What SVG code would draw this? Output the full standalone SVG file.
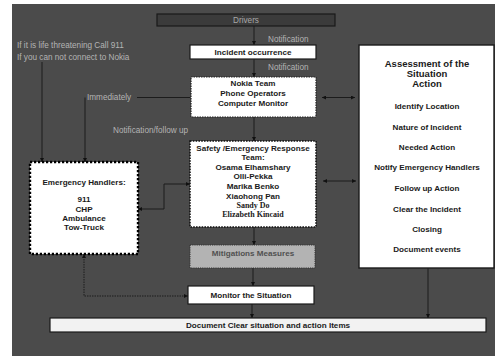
<svg xmlns="http://www.w3.org/2000/svg" width="495" height="356" viewBox="0 0 495 356">
<style>
.bx{font-family:"Liberation Sans",Arial,sans-serif;font-weight:bold;font-size:8.1px;fill:#1a1a1a;text-anchor:middle}
.hd{font-size:9.5px}
.lb{font-family:"Liberation Sans",Arial,sans-serif;font-size:8.2px;fill:#b4b4b4}
.sf{font-family:"Liberation Serif","Times New Roman",serif;font-weight:bold;font-size:8px;fill:#1a1a1a;text-anchor:middle}
.cn{fill:none;stroke:#1c1c1c;stroke-width:1}
</style>
<defs>
<marker id="ah" markerWidth="4" markerHeight="4" refX="4" refY="2" orient="auto-start-reverse" markerUnits="userSpaceOnUse">
<path d="M0,0 L4,2 L0,4 Z" fill="#111"/>
</marker>
</defs>
<rect x="0" y="0" width="495" height="356" fill="#ffffff"/>
<rect x="12" y="4" width="483" height="352" fill="#4b4b4b"/>

<g id="labels">
<text class="lb" x="17" y="47.5">If it is life threatening Call 911</text>
<text class="lb" x="17" y="59.5">If you can not connect to Nokia</text>
<text class="lb" x="268" y="41.5">Notification</text>
<text class="lb" x="268" y="69.5">Notification</text>
<text class="lb" x="87" y="100">Immediately</text>
<text class="lb" x="113" y="133">Notification/follow up</text>
</g>

<g id="connectors">
<path class="cn" d="M254 26 V45" marker-end="url(#ah)"/>
<path class="cn" d="M254 59 V77" marker-end="url(#ah)"/>
<path class="cn" d="M254 117 V141" marker-end="url(#ah)"/>
<path class="cn" d="M254 227 V245" marker-end="url(#ah)"/>
<path class="cn" d="M253 268 V286" marker-end="url(#ah)"/>
<path class="cn" d="M252 304 V318" marker-end="url(#ah)"/>
<path class="cn" d="M322 97.5 H355" marker-start="url(#ah)" marker-end="url(#ah)"/>
<path class="cn" d="M323 181 H356" marker-start="url(#ah)" marker-end="url(#ah)"/>
<path class="cn" d="M428 268 V318" marker-end="url(#ah)"/>
<path class="cn" d="M42 62 V162" marker-end="url(#ah)"/>
<path class="cn" d="M190 97.5 H137 M85 97.5 V162" marker-end="url(#ah)"/>
<path class="cn" d="M138 209 H164 V184 H190" marker-start="url(#ah)" marker-end="url(#ah)"/>
<path class="cn" d="M84 254 V296 H188" stroke-dasharray="1.5,1" marker-start="url(#ah)" marker-end="url(#ah)"/>
</g>

<g id="drivers">
<rect x="157" y="14" width="178" height="12" fill="#3b3b3b" stroke="#1a1a1a" stroke-width="1.2"/>
<text class="lb" x="246" y="22.8" text-anchor="middle" style="fill:#a8a8a8">Drivers</text>
</g>

<g id="incident">
<rect x="190" y="45" width="126" height="14" fill="#ffffff" stroke="#1a1a1a" stroke-width="1.2"/>
<text class="bx" x="253" y="54.8">Incident occurrence</text>
</g>

<g id="nokia">
<rect x="191" y="77" width="125" height="40" fill="#ffffff" stroke="#222" stroke-width="1.2" stroke-dasharray="1.5,1"/>
<text class="bx" x="253" y="86">Nokia Team</text>
<text class="bx" x="253" y="96">Phone Operators</text>
<text class="bx" x="253" y="106">Computer Monitor</text>
</g>

<g id="safety">
<rect x="190" y="141" width="126" height="86" fill="#ffffff" stroke="#111" stroke-width="1.6" stroke-dasharray="1.6,1.2"/>
<text class="bx" x="253" y="151">Safety /Emergency Response</text>
<text class="bx" x="253" y="160">Team:</text>
<text class="bx" x="253" y="169.5">Osama Elhamshary</text>
<text class="bx" x="253" y="179">Olli-Pekka</text>
<text class="bx" x="253" y="189">Marika Benko</text>
<text class="bx" x="253" y="198.5">Xiaohong Pan</text>
<text class="sf" x="253" y="208">Sandy Do</text>
<text class="sf" x="253" y="217">Elizabeth Kincaid</text>
</g>

<g id="mitigations">
<rect x="190" y="245" width="125" height="23" fill="#b3b3b3" stroke="#333" stroke-width="1" stroke-dasharray="1.2,1"/>
<text class="bx" x="253" y="256" style="fill:#505050">Mitigations Measures</text>
</g>

<g id="monitor">
<rect x="188" y="286" width="126" height="18" fill="#ffffff" stroke="#1a1a1a" stroke-width="1.2"/>
<text class="bx" x="251" y="297.5">Monitor the Situation</text>
</g>

<g id="document">
<rect x="50" y="318" width="436" height="14" fill="#f2f2f2" stroke="#1a1a1a" stroke-width="1.2"/>
<text class="bx" x="268" y="328">Document Clear situation and action Items</text>
</g>

<g id="emergency">
<rect x="30" y="162" width="108" height="92" fill="#ffffff" stroke="#000" stroke-width="2.4" stroke-dasharray="2.2,1.8"/>
<text class="bx" x="84" y="185">Emergency Handlers:</text>
<text class="bx" x="84" y="202">911</text>
<text class="bx" x="84" y="211.5">CHP</text>
<text class="bx" x="84" y="221">Ambulance</text>
<text class="bx" x="84" y="230">Tow-Truck</text>
</g>

<g id="assessment">
<rect x="359" y="45" width="135" height="223" fill="#ffffff" stroke="#1a1a1a" stroke-width="1.4"/>
<text class="bx hd" x="427" y="66.5">Assessment of the</text>
<text class="bx hd" x="427" y="76.5">Situation</text>
<text class="bx hd" x="427" y="87">Action</text>
<text class="bx" x="427" y="109">Identify Location</text>
<text class="bx" x="427" y="130">Nature of Incident</text>
<text class="bx" x="427" y="150">Needed Action</text>
<text class="bx" x="427" y="170">Notify Emergency Handlers</text>
<text class="bx" x="427" y="191">Follow up Action</text>
<text class="bx" x="427" y="212">Clear the Incident</text>
<text class="bx" x="427" y="232">Closing</text>
<text class="bx" x="427" y="252">Document events</text>
</g>
</svg>
